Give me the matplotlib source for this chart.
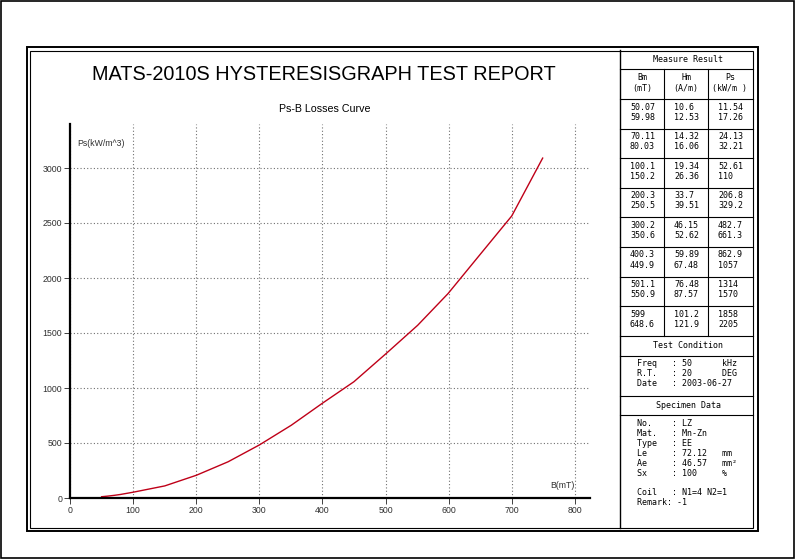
import numpy as np
import matplotlib
matplotlib.use('Agg')
import matplotlib.pyplot as plt
from matplotlib.lines import Line2D
from matplotlib.patches import Rectangle

# measured table values
bm = [50.07, 59.98, 70.11, 80.03, 100.1, 150.2, 200.3, 250.5,
      300.2, 350.6, 400.3, 449.9, 501.1, 550.9, 599, 648.6]
hm = [10.6, 12.53, 14.32, 16.06, 19.34, 26.36, 33.7, 39.51,
      46.15, 52.62, 59.89, 67.48, 76.48, 87.57, 101.2, 121.9]
ps = [11.54, 17.26, 24.13, 32.21, 52.61, 110, 206.8, 329.2,
      482.7, 661.3, 862.9, 1057, 1314, 1570, 1858, 2205]
bm_txt = ['50.07', '59.98', '70.11', '80.03', '100.1', '150.2', '200.3', '250.5',
          '300.2', '350.6', '400.3', '449.9', '501.1', '550.9', '599', '648.6']
hm_txt = ['10.6', '12.53', '14.32', '16.06', '19.34', '26.36', '33.7', '39.51',
          '46.15', '52.62', '59.89', '67.48', '76.48', '87.57', '101.2', '121.9']
ps_txt = ['11.54', '17.26', '24.13', '32.21', '52.61', '110', '206.8', '329.2',
          '482.7', '661.3', '862.9', '1057', '1314', '1570', '1858', '2205']

# curve continues past the table
extra_b = [700.0, 749.0]
extra_ps = [2564, 3090]

x_ticks = [0, 100, 200, 300, 400, 500, 600, 700, 800]
y_ticks = [0, 500, 1000, 1500, 2000, 2500, 3000]

cond_lines = ['Freq   : 50      kHz',
              'R.T.   : 20      DEG',
              'Date   : 2003-06-27']
spec_lines = ['No.    : LZ',
              'Mat.   : Mn-Zn',
              'Type   : EE',
              'Le     : 72.12   mm',
              'Ae     : 46.57   mm\u00b2',
              'Sx     : 100     %',
              '',
              'Coil   : N1=4 N2=1',
              'Remark: -1']

W, H = 796, 560
MONO = 'DejaVu Sans Mono'
SANS = 'Liberation Sans'


def fx(x):
    return x / W


def fy(y):
    return 1 - y / H


def hline(fig, x0, x1, y, lw=0.8):
    fig.add_artist(Line2D([fx(x0), fx(x1)], [fy(y), fy(y)], color='black', lw=lw))


def vline(fig, x, y0, y1, lw=0.8):
    fig.add_artist(Line2D([fx(x), fx(x)], [fy(y0), fy(y1)], color='black', lw=lw))


def ptext(fig, x, y, s, ha='left', size=6, family=MONO, color='black'):
    fig.text(fx(x), fy(y), s, ha=ha, va='center', fontsize=size,
             family=family, color=color)


fig = plt.figure(figsize=(W / 100, H / 100), dpi=100)
fig.patch.set_facecolor('white')

# outer border and double frame
fig.add_artist(Rectangle((fx(1), fy(558)), fx(793), 557 / H, fill=False,
                         edgecolor='black', lw=1.2, transform=fig.transFigure))
fig.add_artist(Rectangle((fx(26.5), fy(531)), fx(731), 484 / H, fill=False,
                         edgecolor='black', lw=1.4, transform=fig.transFigure))
fig.add_artist(Rectangle((fx(30), fy(528)), fx(723), 477 / H, fill=False,
                         edgecolor='black', lw=0.8, transform=fig.transFigure))

# titles
ptext(fig, 324, 74, 'MATS-2010S HYSTERESISGRAPH TEST REPORT', ha='center',
      size=14.3, family=SANS)
ptext(fig, 325, 109, 'Ps-B Losses Curve', ha='center', size=7.7, family=SANS)

# chart
ax = fig.add_axes([fx(70), fy(498), fx(520), 374 / H])
ax.plot(bm + extra_b, ps + extra_ps, color='#bf0018', lw=1)
ax.set_xlim(0, 824)
ax.set_ylim(0, 3400)
ax.set_xticks(x_ticks)
ax.set_yticks(y_ticks)
ax.grid(True, color='#707070', linestyle=(0, (1, 2)), lw=0.8)
for s in ['top', 'right']:
    ax.spines[s].set_visible(False)
for s in ['left', 'bottom']:
    ax.spines[s].set_linewidth(1.6)
ax.tick_params(length=4, width=0.7, color='#404040', labelsize=6.3,
               labelcolor='#303030', pad=1.5)
for lab in ax.get_xticklabels() + ax.get_yticklabels():
    lab.set_family(SANS)
ax.text(11, 3227, 'Ps(kW/m^3)', fontsize=6.3, family=SANS, color='#303030',
        ha='left', va='center')
ax.text(800, 110, 'B(mT)', fontsize=6.3, family=SANS, color='#303030',
        ha='right', va='center')

# result table
TL, TR = 620, 753
c1, c2 = 664, 708
vline(fig, TL, 50, 528, lw=1.0)
hline(fig, TL, TR, 69)
hline(fig, TL, TR, 99)
vline(fig, c1, 69, 336)
vline(fig, c2, 69, 336)
ptext(fig, 688, 59, 'Measure Result', ha='center')
for cx, a, b in [(642, 'Bm', '(mT)'), (686, 'Hm', '(A/m)'), (730, 'Ps', '(kW/m )')]:
    ptext(fig, cx, 78, a, ha='center')
    ptext(fig, cx, 88, b, ha='center')

row_tops = [99, 128.6, 158.2, 187.8, 217.4, 247, 276.6, 306.2]
for g, top in enumerate(row_tops):
    for k in range(2):
        i = 2 * g + k
        yy = top + 8 + 10 * k
        ptext(fig, TL + 10, yy, bm_txt[i])
        ptext(fig, c1 + 10, yy, hm_txt[i])
        ptext(fig, c2 + 10, yy, ps_txt[i])
    if g > 0:
        hline(fig, TL, TR, top)
hline(fig, TL, TR, 336)

ptext(fig, 688, 346, 'Test Condition', ha='center')
hline(fig, TL, TR, 356)
for i, s in enumerate(cond_lines):
    ptext(fig, 637, 364 + 10 * i, s)
hline(fig, TL, TR, 396)
ptext(fig, 688, 405, 'Specimen Data', ha='center')
hline(fig, TL, TR, 415)
for i, s in enumerate(spec_lines):
    ptext(fig, 637, 424 + 9.8 * i, s)

fig.savefig('out.png', dpi=100)
